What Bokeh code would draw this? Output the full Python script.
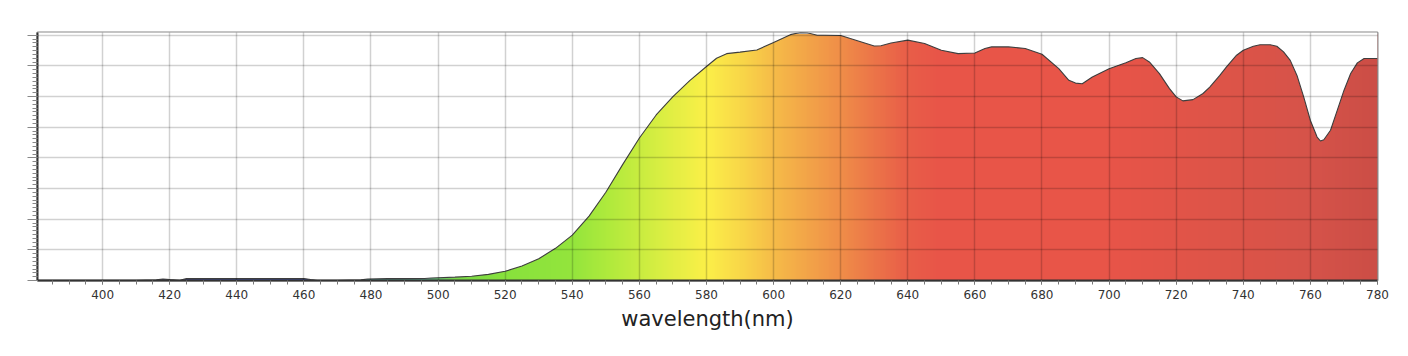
import numpy as np
from bokeh.plotting import figure
from bokeh.models import Range1d, FixedTicker, CustomJSTickFormatter
from bokeh.embed import file_html
from bokeh.resources import INLINE

# --- data (wavelength in nm, relative intensity in grid units) ---
wavelength = [380, 395, 410, 416, 418, 420, 423, 425, 430, 440, 450, 460, 462, 464, 470,
              477, 479, 485, 490, 496, 498, 500, 505, 510, 515, 520, 525, 530, 535, 540,
              545, 550, 555, 560, 565, 570, 575, 580, 583, 586, 590, 595, 600, 605, 608, 610,
              613, 615, 620, 625, 630, 632, 635, 640, 645, 650, 655, 660, 663, 665, 670,
              675, 680, 685, 688, 690, 692, 695, 700, 705, 708, 710, 712, 715, 718, 720,
              722, 725, 728, 730, 733, 735, 738, 740, 743, 745, 748, 750, 752, 754, 756,
              758, 760, 762, 763, 764, 766, 768, 770, 772, 774, 776, 780]
intensity = [0.01, 0.01, 0.01, 0.02, 0.05, 0.03, 0.01, 0.06, 0.065, 0.065, 0.065, 0.065, 0.03, 0.01, 0.01,
             0.02, 0.05, 0.06, 0.06, 0.065, 0.08, 0.09, 0.11, 0.14, 0.2, 0.3, 0.47, 0.71, 1.05, 1.48,
             2.1, 2.88, 3.78, 4.65, 5.4, 6.0, 6.52, 6.98, 7.25, 7.4, 7.45, 7.52, 7.76, 8.02, 8.09, 8.08,
             8.0, 8.0, 7.99, 7.82, 7.65, 7.66, 7.75, 7.84, 7.73, 7.51, 7.40, 7.42, 7.57, 7.62, 7.62,
             7.57, 7.38, 6.91, 6.53, 6.44, 6.42, 6.64, 6.91, 7.10, 7.24, 7.27, 7.13, 6.75, 6.26, 5.99,
             5.86, 5.90, 6.10, 6.31, 6.69, 6.97, 7.35, 7.51, 7.64, 7.69, 7.69, 7.64, 7.46, 7.18, 6.69,
             5.99, 5.22, 4.68, 4.55, 4.59, 4.90, 5.55, 6.20, 6.75, 7.10, 7.24, 7.24]

x_ticks = list(range(400, 781, 20))
y_ticks = list(range(0, 9))

X_MIN, X_MAX = 380.6, 780.0
Y_MAX = 8.09

# --- spectral colour gradient (style only) ---
stops = [(380, "#40407e"), (420, "#40407e"), (440, "#3c4a8c"), (462, "#3c4a8c"),
         (478, "#4a8f8a"), (496, "#5aa88a"), (505, "#7ad848"), (520, "#88e23c"),
         (540, "#94e53c"), (550, "#aeea3c"), (565, "#d6ee42"), (580, "#fcf048"),
         (590, "#f9d848"), (600, "#f6bc48"), (610, "#f3a548"), (620, "#f08e48"),
         (630, "#ec7548"), (640, "#e95e48"), (650, "#e85548"), (700, "#e85548"),
         (740, "#dc5448"), (760, "#d6534a"), (780, "#cc4e46")]

def hex2rgb(h):
    return [int(h[i:i + 2], 16) for i in (1, 3, 5)]

sw = np.array([s[0] for s in stops], dtype=float)
sc = np.array([hex2rgb(s[1]) for s in stops], dtype=float)
N = 800
cols = np.linspace(X_MIN, X_MAX, N)
img = np.zeros((1, N), dtype=np.uint32)
view = img.view(dtype=np.uint8).reshape((1, N, 4))
for k in range(3):
    view[0, :, k] = np.interp(cols, sw, sc[:, k]).astype(np.uint8)
view[0, :, 3] = 255

p = figure(width=1408, height=356, output_backend="svg", toolbar_location=None,
           x_range=Range1d(X_MIN, X_MAX), y_range=Range1d(0, Y_MAX),
           min_border_left=37, min_border_right=31, min_border_top=32, min_border_bottom=76,
           background_fill_color="white", border_fill_color="white")

p.image_rgba(image=[img], x=X_MIN, y=0, dw=X_MAX - X_MIN, dh=Y_MAX - 0.05)
p.varea(x=wavelength, y1=intensity, y2=[Y_MAX + 1] * len(wavelength), fill_color="white")
p.line(x=wavelength, y=intensity, line_color="#3e3e3e", line_width=1.1)

# grids on top
p.xgrid.ticker = FixedTicker(ticks=x_ticks)
p.ygrid.ticker = FixedTicker(ticks=y_ticks)
for g in (p.xgrid, p.ygrid):
    g.grid_line_color = "black"
    g.grid_line_alpha = 0.18
    g.grid_line_width = 1.5
    g.level = "overlay"

p.outline_line_color = "#888888"
p.outline_line_width = 2

# x axis
xa = p.xaxis[0]
xa.ticker = FixedTicker(ticks=x_ticks, minor_ticks=list(np.arange(385, 781, 5)))
xa.axis_label = "wavelength(nm)"
xa.axis_label_text_font = "DejaVu Sans"
xa.axis_label_text_font_style = "normal"
xa.axis_label_text_font_size = "21px"
xa.axis_label_text_color = "#222222"
xa.axis_label_standoff = 5
xa.major_label_text_font = "DejaVu Sans"
xa.major_label_text_font_size = "12px"
xa.major_label_text_color = "#333333"
xa.major_label_standoff = 5
xa.axis_line_color = "#333333"
xa.axis_line_width = 2
xa.major_tick_in = 0
xa.major_tick_out = 4
xa.minor_tick_in = 0
xa.minor_tick_out = 4
xa.major_tick_line_color = "#777777"
xa.minor_tick_line_color = "#777777"

# y axis (no labels)
ya = p.yaxis[0]
ya.ticker = FixedTicker(ticks=y_ticks, minor_ticks=list(np.arange(0, 8.1, 0.125)))
ya.formatter = CustomJSTickFormatter(code="return ''")
ya.axis_line_color = "#333333"
ya.axis_line_width = 2
ya.major_tick_in = 0
ya.major_tick_out = 10
ya.minor_tick_in = 0
ya.minor_tick_out = 5
ya.major_tick_line_color = "#888888"
ya.minor_tick_line_color = "#888888"

open("out.html", "w").write(file_html(p, INLINE))
